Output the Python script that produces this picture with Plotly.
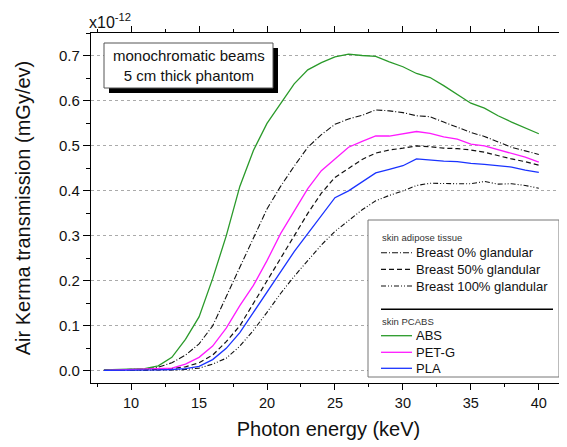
import plotly.graph_objects as go

# Photon energy (keV)
energy = list(range(8, 41))

# Air kerma transmission (x1e-12 mGy/eV)
abs_vals = [0.002, 0.003, 0.004, 0.005, 0.011, 0.03, 0.07, 0.12, 0.205, 0.30, 0.41, 0.49,
            0.55, 0.595, 0.638, 0.669, 0.685, 0.698, 0.704, 0.701, 0.699, 0.687, 0.676,
            0.661, 0.652, 0.634, 0.614, 0.595, 0.584, 0.567, 0.553, 0.540, 0.527]
petg_vals = [0.001, 0.002, 0.002, 0.003, 0.004, 0.006, 0.015, 0.03, 0.055, 0.095, 0.145,
             0.19, 0.245, 0.305, 0.355, 0.405, 0.445, 0.47, 0.497, 0.51, 0.522, 0.522,
             0.527, 0.532, 0.528, 0.52, 0.515, 0.504, 0.5, 0.492, 0.484, 0.475, 0.464]
pla_vals = [0.001, 0.001, 0.002, 0.002, 0.002, 0.003, 0.005, 0.01, 0.025, 0.05, 0.085,
            0.13, 0.175, 0.22, 0.265, 0.305, 0.345, 0.385, 0.4, 0.42, 0.44, 0.448, 0.456,
            0.471, 0.468, 0.466, 0.465, 0.461, 0.459, 0.456, 0.453, 0.446, 0.441]
breast0_vals = [0.002, 0.003, 0.003, 0.004, 0.008, 0.018, 0.035, 0.06, 0.1, 0.165, 0.23,
                0.295, 0.36, 0.41, 0.455, 0.497, 0.525, 0.548, 0.56, 0.568, 0.58, 0.578,
                0.574, 0.567, 0.565, 0.553, 0.541, 0.53, 0.521, 0.509, 0.497, 0.489, 0.481]
breast50_vals = [0.001, 0.002, 0.002, 0.002, 0.003, 0.005, 0.009, 0.018, 0.035, 0.065, 0.1,
                 0.15, 0.2, 0.25, 0.3, 0.35, 0.395, 0.43, 0.45, 0.47, 0.484, 0.491, 0.495,
                 0.5, 0.498, 0.495, 0.494, 0.491, 0.486, 0.478, 0.471, 0.465, 0.457]
breast100_vals = [0.001, 0.001, 0.001, 0.001, 0.002, 0.002, 0.003, 0.006, 0.015, 0.028,
                  0.055, 0.09, 0.13, 0.172, 0.21, 0.245, 0.28, 0.31, 0.335, 0.358, 0.378,
                  0.39, 0.4, 0.412, 0.417, 0.416, 0.416, 0.416, 0.421, 0.415, 0.416, 0.412,
                  0.406]

x_ticks = [10, 15, 20, 25, 30, 35, 40]
y_ticks = [0.0, 0.1, 0.2, 0.3, 0.4, 0.5, 0.6, 0.7]
y_tick_labels = ["0.0", "0.1", "0.2", "0.3", "0.4", "0.5", "0.6", "0.7"]

FONT = "Arial, Liberation Sans, sans-serif"
GREEN = "#2a9a2a"
MAGENTA = "#ff1aff"
BLUE = "#1a33ff"
DASH0 = "6px,2px,1px,2px"
DASH50 = "5px,3px"
DASH100 = "5px,2px,1px,2px,1px,2px"

series = [
    ("Breast 0% glandular", breast0_vals, "#111111", DASH0, 1.1),
    ("Breast 50% glandular", breast50_vals, "#111111", DASH50, 1.2),
    ("Breast 100% glandular", breast100_vals, "#111111", DASH100, 1.1),
    ("ABS", abs_vals, GREEN, "solid", 1.3),
    ("PET-G", petg_vals, MAGENTA, "solid", 1.3),
    ("PLA", pla_vals, BLUE, "solid", 1.3),
]

fig = go.Figure()
for name, vals, color, dash, w in series:
    fig.add_trace(go.Scatter(x=energy, y=vals, mode="lines", name=name,
                             line=dict(color=color, dash=dash, width=w),
                             showlegend=False))

# page body has an 8px margin; size the figure to fit the 567x447 window
OFF = 8
W, H = 567 - OFF, 447 - OFF
L, R, T, B = 83, 1, 25, 64
PW, PH = W - L - R, H - T - B


def px(x):
    return (x - OFF - L) / PW


def py(y):
    return (H - B - (y - OFF)) / PH


shapes = []
annotations = []

# Info box with drop shadow
shapes.append(dict(type="rect", xref="paper", yref="paper",
                   x0=px(109), x1=px(278), y0=py(93), y1=py(48),
                   fillcolor="black", line=dict(width=0)))
shapes.append(dict(type="rect", xref="paper", yref="paper",
                   x0=px(104), x1=px(273), y0=py(88), y1=py(43),
                   fillcolor="white", line=dict(color="#555555", width=1)))
annotations.append(dict(xref="paper", yref="paper", x=px(188.5), y=py(65.5),
                        text="monochromatic beams<br>5 cm thick phantom",
                        showarrow=False, align="center",
                        font=dict(family=FONT, size=15, color="#111111"),
                        xanchor="center", yanchor="middle"))

# Legend box
shapes.append(dict(type="rect", xref="paper", yref="paper",
                   x0=px(368), x1=px(559), y0=py(377), y1=py(220),
                   fillcolor="white", line=dict(color="#777777", width=1)))
annotations.append(dict(xref="paper", yref="paper", x=px(380), y=py(237.7),
                        text="skin adipose tissue", showarrow=False,
                        font=dict(family=FONT, size=9.5, color="#333333"),
                        xanchor="left", yanchor="middle"))
annotations.append(dict(xref="paper", yref="paper", x=px(380), y=py(321),
                        text="skin PCABS", showarrow=False,
                        font=dict(family=FONT, size=9.5, color="#333333"),
                        xanchor="left", yanchor="middle"))
shapes.append(dict(type="line", xref="paper", yref="paper",
                   x0=px(381), x1=px(553), y0=py(309.3), y1=py(309.3),
                   line=dict(color="black", width=1.5)))

row_y = [252.7, 269.3, 286.0, 335.7, 352.3, 368.3]
for (name, vals, color, dash, w), yy in zip(series, row_y):
    shapes.append(dict(type="line", xref="paper", yref="paper",
                       x0=px(381), x1=px(412), y0=py(yy), y1=py(yy),
                       line=dict(color=color, dash=dash, width=w)))
    annotations.append(dict(xref="paper", yref="paper", x=px(414), y=py(yy),
                            text=name, showarrow=False,
                            font=dict(family=FONT, size=13, color="#111111"),
                            xanchor="left", yanchor="middle"))

# Exponent label
annotations.append(dict(xref="paper", yref="paper", x=px(87), y=py(21),
                        text="x10<sup>-12</sup>", showarrow=False,
                        font=dict(family=FONT, size=16, color="#111111"),
                        xanchor="left", yanchor="middle"))

fig.update_layout(
    width=W, height=H,
    margin=dict(l=L, r=R, t=T, b=B, autoexpand=False),
    paper_bgcolor="white", plot_bgcolor="white",
    font=dict(family=FONT, color="#111111"),
    shapes=shapes, annotations=annotations,
    showlegend=False,
)

fig.update_xaxes(
    range=[7.05, 42], tickmode="array", tickvals=x_ticks,
    ticks="outside", ticklen=6, tickwidth=1, tickcolor="black",
    minor=dict(dtick=2.5, tick0=0, ticks="outside", ticklen=3, tickcolor="black"),
    showline=True, linecolor="black", linewidth=1.3, mirror="ticks",
    showgrid=False, zeroline=False,
    tickfont=dict(family=FONT, size=14.5, color="#111111"),
    title=dict(text="Photon energy (keV)", standoff=12,
               font=dict(family=FONT, size=20, color="#111111")),
)
fig.update_yaxes(
    range=[-0.027, 0.751], tickmode="array", tickvals=y_ticks, ticktext=y_tick_labels,
    ticks="outside", ticklen=7, tickwidth=1, tickcolor="black",
    minor=dict(dtick=0.05, tick0=0, ticks="outside", ticklen=4, tickcolor="black"),
    showline=True, linecolor="black", linewidth=1.3, mirror=True,
    showgrid=True, gridcolor="#aaaaaa", griddash="dot", gridwidth=1,
    zeroline=False,
    tickfont=dict(family=FONT, size=15, color="#111111"),
    title=dict(text="Air Kerma transmission (mGy/ev)", standoff=22,
               font=dict(family=FONT, size=20, color="#111111")),
)

fig.write_html("out.html")
